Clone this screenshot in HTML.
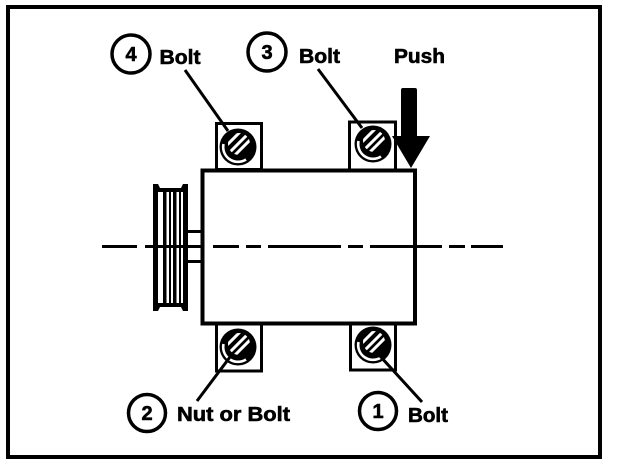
<!DOCTYPE html>
<html>
<head>
<meta charset="utf-8">
<style>
html,body{margin:0;padding:0;background:#fff;width:624px;height:464px;overflow:hidden}
svg{display:block}
text{font-family:"Liberation Sans",sans-serif;font-weight:bold;fill:#000;stroke:#000;stroke-width:.6}
</style>
</head>
<body>
<svg width="624" height="464" viewBox="0 0 624 464" xmlns="http://www.w3.org/2000/svg">
<defs>
<clipPath id="c"><circle cx="1" cy="-3" r="11"/></clipPath>
<g id="bolt">
  <circle cx="0" cy="0" r="18.500" fill="#000"/>
  <path d="M-14.500,-3 A14.800,14.800 0 0 0 8,12.500" fill="none" stroke="#fff" stroke-width="2.600"/>
  <g clip-path="url(#c)" stroke="#fff" stroke-width="3">
    <line x1="-12" y1="-1" x2="4" y2="-17"/>
    <line x1="-9" y1="6" x2="10" y2="-13"/>
    <line x1="-4" y1="9" x2="15" y2="-10"/>
  </g>
</g>
</defs>
<rect x="8" y="7" width="592" height="450" fill="#fff" stroke="#000" stroke-width="4"/>

<!-- Mount boxes -->
<rect x="216.500" y="123.500" width="45" height="46" fill="#fff" stroke="#000" stroke-width="3"/>
<rect x="349.500" y="122" width="46" height="48" fill="#fff" stroke="#000" stroke-width="3"/>
<rect x="216.500" y="324" width="45" height="47" fill="#fff" stroke="#000" stroke-width="3"/>
<rect x="350.500" y="324" width="45" height="46" fill="#fff" stroke="#000" stroke-width="3"/>

<!-- Bolts -->
<use href="#bolt" x="238" y="147"/>
<use href="#bolt" x="373" y="144"/>
<use href="#bolt" x="238" y="347"/>
<use href="#bolt" x="373" y="345"/>

<!-- Main body -->
<rect x="202.500" y="170.500" width="212.500" height="153" fill="#fff" stroke="#000" stroke-width="4"/>

<!-- Shaft -->
<rect x="188" y="230" width="15" height="3" fill="#000"/>
<rect x="188" y="260" width="15" height="3" fill="#000"/>

<!-- Pulley -->
<path d="M153,184 H158 L160,188 H181 L183,184 H188 V311 H183 L181,307 H160 L158,311 H153Z" fill="#000"/>
<rect x="158" y="192" width="25" height="111" fill="#fff"/>
<rect x="163" y="191" width="3.500" height="113" fill="#000"/>
<rect x="169" y="191" width="2" height="113" fill="#000"/>
<rect x="173" y="191" width="3.500" height="113" fill="#000"/>
<rect x="179" y="191" width="2" height="113" fill="#000"/>

<!-- Center line -->
<g fill="#000">
  <rect x="102" y="245" width="35" height="3"/>
  <rect x="145" y="245" width="58" height="3"/>
  <rect x="213" y="245" width="26" height="3"/>
  <rect x="246" y="245" width="15" height="3"/>
  <rect x="268" y="245" width="73" height="3"/>
  <rect x="348" y="245" width="15" height="3"/>
  <rect x="370" y="245" width="72" height="3"/>
  <rect x="449" y="245" width="16" height="3"/>
  <rect x="471" y="245" width="32" height="3"/>
</g>

<!-- Push arrow -->
<path d="M401,90 Q401,88 403,88 H415 Q417,88 417,90 V136 H430 L411,168 L392,136 H401Z" fill="#000"/>

<!-- Leaders -->
<g stroke="#000" stroke-width="3" fill="none">
  <line x1="185" y1="70" x2="228" y2="131"/>
  <line x1="318" y1="69" x2="362" y2="128"/>
  <line x1="197" y1="401" x2="230" y2="357"/>
  <line x1="380" y1="356" x2="422" y2="402"/>
</g>

<!-- Callout circles -->
<g fill="#fff" stroke="#000" stroke-width="3.500">
  <circle cx="131" cy="54" r="19"/>
  <circle cx="267" cy="52" r="19"/>
  <circle cx="147" cy="413" r="18.500"/>
  <circle cx="378" cy="411" r="18.500"/>
</g>
<g font-size="20" text-anchor="middle">
  <text x="131" y="61">4</text>
  <text x="267" y="59">3</text>
  <text x="147" y="420">2</text>
  <text x="378" y="418">1</text>
</g>

<!-- Labels -->
<g font-size="20">
  <text x="159.500" y="64" textLength="41" lengthAdjust="spacingAndGlyphs">Bolt</text>
  <text x="299" y="63" textLength="41" lengthAdjust="spacingAndGlyphs">Bolt</text>
  <text x="394" y="63" textLength="51" lengthAdjust="spacingAndGlyphs">Push</text>
  <text x="177" y="421" textLength="113" lengthAdjust="spacingAndGlyphs">Nut or Bolt</text>
  <text x="408" y="422" textLength="40" lengthAdjust="spacingAndGlyphs">Bolt</text>
</g>
</svg>
</body>
</html>
